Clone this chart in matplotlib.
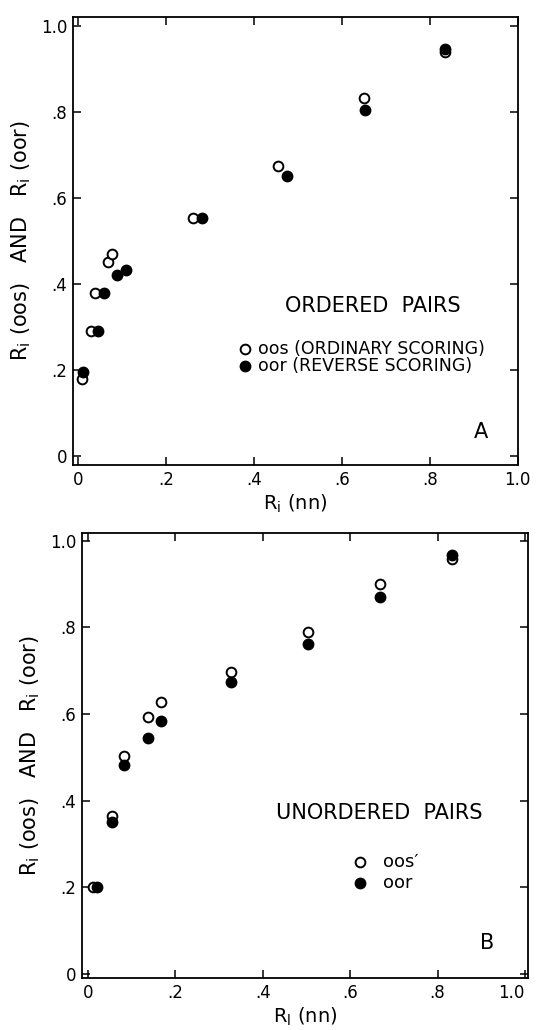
import matplotlib
matplotlib.use("Agg")
import matplotlib.pyplot as plt

# Panel A - ordered pairs
a_x_oos = [0.010, 0.031, 0.040, 0.069, 0.079, 0.261, 0.455, 0.650, 0.835]
a_y_oos = [0.180, 0.290, 0.380, 0.452, 0.471, 0.553, 0.674, 0.833, 0.938]
a_x_oor = [0.012, 0.045, 0.060, 0.090, 0.109, 0.282, 0.476, 0.652, 0.835]
a_y_oor = [0.195, 0.290, 0.380, 0.421, 0.433, 0.553, 0.652, 0.803, 0.945]

# Panel B - unordered pairs
b_x_oos = [0.012, 0.055, 0.081, 0.137, 0.167, 0.327, 0.503, 0.669, 0.832]
b_y_oos = [0.200, 0.366, 0.504, 0.594, 0.627, 0.697, 0.790, 0.900, 0.958]
b_x_oor = [0.020, 0.055, 0.081, 0.136, 0.167, 0.327, 0.503, 0.669, 0.832]
b_y_oor = [0.202, 0.350, 0.483, 0.544, 0.583, 0.674, 0.761, 0.871, 0.968]

ticks = [0, 0.2, 0.4, 0.6, 0.8, 1.0]
tick_labels = ["0", ".2", ".4", ".6", ".8", "1.0"]

plt.rcParams["font.family"] = ["DejaVu Sans"]
plt.rcParams["mathtext.fontset"] = "dejavusans"

fig = plt.figure(figsize=(5.36, 10.30), dpi=100)
axA = fig.add_axes([0.136, 0.5485, 0.830, 0.435])
axB = fig.add_axes([0.153, 0.0505, 0.832, 0.432])

ylab = r"R$_{\rm i}$ (oos)   AND   R$_{\rm i}$ (oor)"


def style(ax, xlim, ylim, xlab):
    ax.set_xlim(*xlim)
    ax.set_ylim(*ylim)
    ax.set_xticks(ticks)
    ax.set_xticklabels(tick_labels)
    ax.set_yticks(ticks)
    ax.set_yticklabels(tick_labels)
    ax.tick_params(direction="in", length=6, width=1.1, top=True, right=True,
                   labelsize=12, pad=4)
    for s in ax.spines.values():
        s.set_linewidth(1.3)
    ax.set_xlabel(xlab, fontsize=14, labelpad=3)
    ax.set_ylabel(ylab, fontsize=15, labelpad=6)


mk_open = dict(marker="o", ms=7, mfc="white", mec="black", mew=1.4, ls="none")
mk_fill = dict(marker="o", ms=7.5, mfc="black", mec="black", mew=1.0, ls="none")

# panel A
axA.plot(a_x_oos, a_y_oos, **mk_open)
axA.plot(a_x_oor, a_y_oor, **mk_fill)
style(axA, (-0.011, 1.0), (-0.02, 1.02), r"R$_{\rm i}$ (nn)")
axA.text(0.67, 0.35, "ORDERED  PAIRS", fontsize=15, ha="center", va="center")
axA.plot([0.38], [0.25], **mk_open)
axA.plot([0.38], [0.21], **mk_fill)
axA.text(0.41, 0.25, "oos (ORDINARY SCORING)", fontsize=12.5, va="center")
axA.text(0.41, 0.21, "oor (REVERSE SCORING)", fontsize=12.5, va="center")
axA.text(0.916, 0.056, "A", fontsize=15, ha="center", va="center")

# panel B
axB.plot(b_x_oos, b_y_oos, **mk_open)
axB.plot(b_x_oor, b_y_oor, **mk_fill)
style(axB, (-0.014, 1.007), (-0.009, 1.018), r"R$_{\rm l}$ (nn)")
axB.get_xticklabels()[-1].set_ha("right")
axB.text(0.666, 0.372, "UNORDERED  PAIRS", fontsize=15, ha="center", va="center")
axB.plot([0.622], [0.259], **mk_open)
axB.plot([0.622], [0.21], **mk_fill)
axB.text(0.675, 0.259, "oos\u2032", fontsize=13, va="center")
axB.text(0.675, 0.21, "oor", fontsize=13, va="center")
axB.text(0.913, 0.072, "B", fontsize=15, ha="center", va="center")

fig.savefig("out.png", dpi=100)
